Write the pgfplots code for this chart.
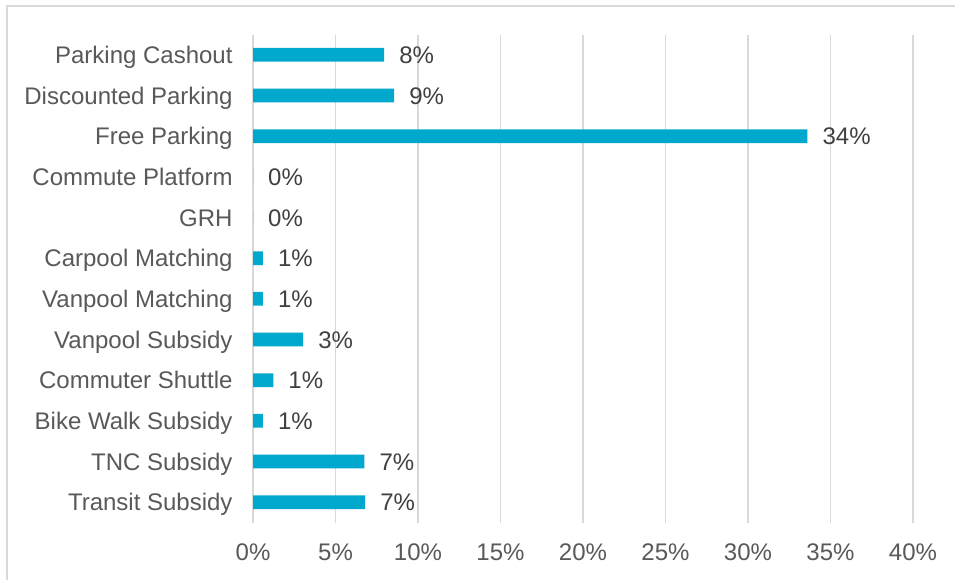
\documentclass[border=0pt]{standalone}
\usepackage{pgfplots}
\pgfplotsset{compat=1.18}
\usepackage{fontspec}
\setmainfont{Liberation Sans}
\definecolor{barc}{HTML}{00A8CE}
\definecolor{gridc}{HTML}{D9D9D9}
\definecolor{txt}{HTML}{595959}
\definecolor{dtxt}{HTML}{404040}
\begin{document}
\begin{tikzpicture}[x=1pt,y=1pt]
\useasboundingbox (0,0) rectangle (955,579);
\fill[white] (0,0) rectangle (955,579);
\draw[gridc, line width=2pt] (7,-5) -- (7,573) -- (960,573);
\begin{axis}[
  at={(253pt,56.5pt)}, anchor=south west,
  scale only axis, width=660pt, height=488pt,
  xbar, bar width=13.7pt,
  xmin=0, xmax=40, ymin=-0.5, ymax=11.5, y dir=reverse,
  xtick={0,5,...,40},
  xticklabel={\pgfmathprintnumber{\tick}\%},
  /pgf/number format/assume math mode=true,
  ytick={0,...,11},
  yticklabels={Parking Cashout,Discounted Parking,Free Parking,Commute Platform,GRH,Carpool Matching,Vanpool Matching,Vanpool Subsidy,Commuter Shuttle,Bike Walk Subsidy,TNC Subsidy,Transit Subsidy},
  xmajorgrids, major grid style={gridc, line width=1.5pt},
  axis line style={draw=none}, tick style={draw=none},
  x tick label style={font=\fontsize{24}{28}\selectfont, color=txt, inner sep=0pt, anchor=north, yshift=-21.5pt},
  y tick label style={font=\fontsize{24}{28}\selectfont, color=txt, inner sep=0pt, text height=17.2pt, text depth=0pt, anchor=east, xshift=-16pt},
  point meta=x,
  nodes near coords={\pgfmathprintnumber[fixed,precision=0]{\pgfplotspointmeta}\%},
  nodes near coords style={font=\fontsize{24}{28}\selectfont, color=dtxt, inner sep=0pt, text height=17.2pt, text depth=0pt, anchor=west, xshift=15pt},
  clip=false,
]
\addplot[fill=barc, draw=none] coordinates {
  (7.95,0) (8.55,1) (33.6,2) (0,3) (0,4) (0.6,5) (0.6,6) (3.04,7) (1.23,8) (0.6,9) (6.75,10) (6.8,11)
};
\end{axis}
\end{tikzpicture}
\end{document}
